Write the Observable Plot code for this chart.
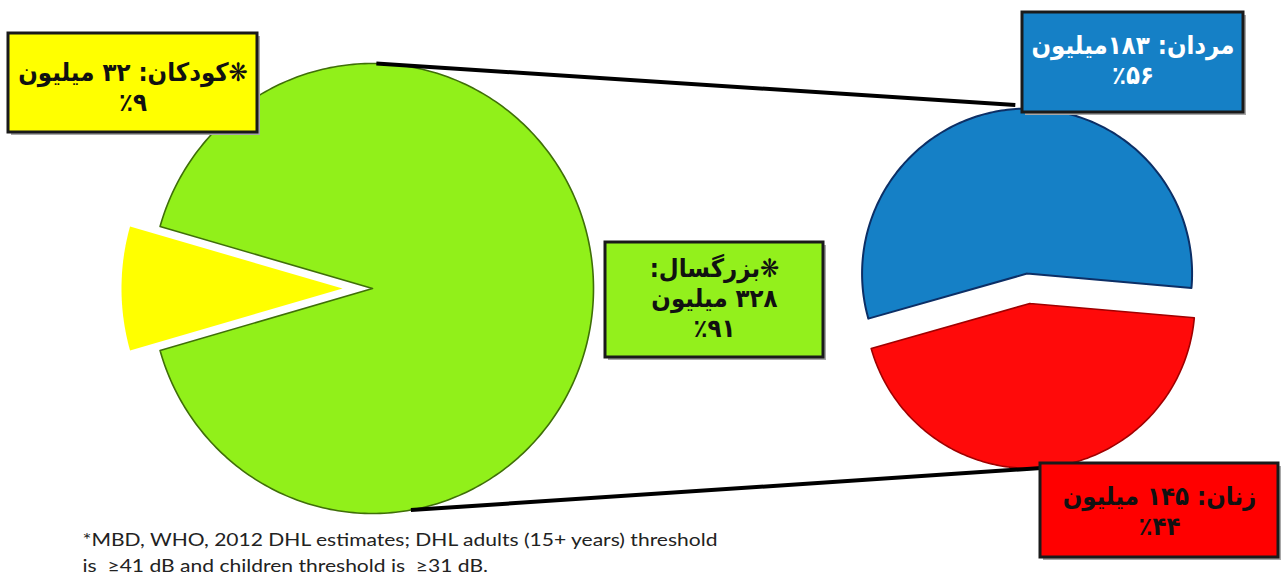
<!DOCTYPE html>
<html>
<head>
<meta charset="utf-8">
<script src="https://cdn.jsdelivr.net/npm/d3@7"></script>
<script src="https://cdn.jsdelivr.net/npm/@observablehq/plot@0.6"></script>
<style>
  html, body { margin: 0; padding: 0; background: #ffffff; }
  #chart svg { display: block; }
</style>
</head>
<body>
<div id="chart"></div>
<script>
// ---------------- DATA ----------------
const groupNames   = ["کودکان", "بزرگسال"];      // children, adults
const groupValues  = [32, 328];                   // million people
const groupPercent = [9, 91];
const sexNames     = ["مردان", "زنان"];           // men, women (breakdown of adults)
const sexValues    = [183, 145];                  // million people
const sexPercent   = [56, 44];
const unitWord     = "میلیون";
const footnoteLines = [
  "*MBD, WHO, 2012 DHL estimates; DHL adults (15+ years) threshold",
  "is  \u226541 dB and children threshold is  \u226531 dB."
];

// ---------------- LAYOUT (page pixels) ----------------
const W = 1288, H = 576;
const leftPie  = {cx: 372, cy: 288, rx: 221, ry: 225, explode: 30, centerAngle: 180};
const rightPie = {cx: 1028, cy: 288, rx: 165, ry: 165, explode: 15, startAngle: -5};
const boxes = {
  children: {x1: 8,    x2: 257,  y1: 33,  y2: 132, cy: 86,  fill: "#ffff00", text: "#111"},
  adults:   {x1: 605,  x2: 823,  y1: 242, y2: 357, cy: 297, fill: "#93f01c", text: "#111"},
  men:      {x1: 1022, x2: 1243, y1: 12,  y2: 112, cy: 59,  fill: "#1580c6", text: "#ffffff"},
  women:    {x1: 1040, x2: 1278, y1: 463, y2: 557, cy: 510, fill: "#ff0000", text: "#111"}
};
const footnoteWidth = 635;

// ---------------- HELPERS ----------------
const faDigits = "۰۱۲۳۴۵۶۷۸۹";
const fa = n => String(n).replace(/\d/g, d => faDigits[+d]);
const pct = n => "\u202A" + "٪" + fa(n) + "\u202C";
const rad = d => d * Math.PI / 180;

function wedge(key, cx, cy, rx, ry, a0, a1, shift, bis) {
  const ox = shift * Math.cos(rad(bis)), oy = -shift * Math.sin(rad(bis));
  const c = [cx + ox, cy + oy];
  const pts = [{key, x: c[0], y: c[1]}];
  const n = Math.ceil(Math.abs(a1 - a0));
  for (let i = 0; i <= n; i++) {
    const a = rad(a0 + (a1 - a0) * i / n);
    pts.push({key, x: c[0] + rx * Math.cos(a), y: c[1] - ry * Math.sin(a)});
  }
  pts.push({key, x: c[0], y: c[1]});
  return pts;
}

// Left pie: children vs adults
const groupTotal = d3.sum(groupValues);
const childSpan = groupValues[0] / groupTotal * 360;
const c0 = leftPie.centerAngle - childSpan / 2, c1 = leftPie.centerAngle + childSpan / 2;
const childWedge = wedge("children", leftPie.cx, leftPie.cy, leftPie.rx, leftPie.ry, c0, c1, leftPie.explode, leftPie.centerAngle);
const adultWedge = wedge("adults", leftPie.cx, leftPie.cy, leftPie.rx, leftPie.ry, c1, c0 + 360, 0, 0);

// Right pie: men vs women
const sexTotal = d3.sum(sexValues);
const menSpan = sexValues[0] / sexTotal * 360;
const m0 = rightPie.startAngle, m1 = m0 + menSpan, w1 = m0 + 360;
const menBis = (m0 + m1) / 2, womenBis = (m1 + w1) / 2;
const menWedge = wedge("men", rightPie.cx, rightPie.cy, rightPie.rx, rightPie.ry, m0, m1, rightPie.explode, menBis);
const womenWedge = wedge("women", rightPie.cx, rightPie.cy, rightPie.rx, rightPie.ry, m1, w1, rightPie.explode, womenBis);

// connector lines (from adult slice edge to exploded sub-pie)
function onPie(p, ang, shift, bis, extra = 0) {
  const cx = p.cx + shift * Math.cos(rad(bis)), cy = p.cy - shift * Math.sin(rad(bis));
  return [cx + (p.rx + extra) * Math.cos(rad(ang)), cy - (p.ry + extra) * Math.sin(rad(ang))];
}
const topA = onPie(leftPie, 89, 0, 0), topB = onPie(rightPie, 94, rightPie.explode, menBis, 4);
const botA = onPie(leftPie, -80, 0, 0), botB = onPie(rightPie, -86, rightPie.explode, womenBis, 0);
const connectors = [
  {x1: topA[0], y1: topA[1], x2: topB[0], y2: topB[1]},
  {x1: botA[0], y1: botA[1], x2: botB[0], y2: botB[1]}
];

// label texts
const labels = [
  {...boxes.children, label: "❋" + groupNames[0] + ": " + fa(groupValues[0]) + " " + unitWord + "\n" + pct(groupPercent[0])},
  {...boxes.adults,   label: "❋" + groupNames[1] + ":\n" + fa(groupValues[1]) + " " + unitWord + "\n" + pct(groupPercent[1])},
  {...boxes.men,      label: sexNames[0] + ": " + fa(sexValues[0]) + unitWord + "\n" + pct(sexPercent[0])},
  {...boxes.women,    label: sexNames[1] + ": " + fa(sexValues[1]) + " " + unitWord + "\n" + pct(sexPercent[1])}
];
labels.forEach(d => { d.cx = (d.x1 + d.x2) / 2; });

const footnote = [{label: footnoteLines.join("\n")}];

const chart = Plot.plot({
  width: W, height: H,
  margin: 0,
  style: {background: "#ffffff", overflow: "visible"},
  x: {domain: [0, W], range: [0, W], axis: null},
  y: {domain: [0, H], range: [0, H], axis: null},
  marks: [
    // left pie
    Plot.line(adultWedge, {x: "x", y: "y", fill: "#91f01a", stroke: "#3f6f08", strokeWidth: 1.6, curve: "linear"}),
    Plot.line(childWedge, {x: "x", y: "y", fill: "#ffff00", stroke: "none", curve: "linear"}),
    // right pie
    Plot.line(menWedge, {x: "x", y: "y", fill: "#1580c6", stroke: "#0c2f66", strokeWidth: 2, curve: "linear"}),
    Plot.line(womenWedge, {x: "x", y: "y", fill: "#ff0a0a", stroke: "#a00000", strokeWidth: 1.6, curve: "linear"}),
    // connectors
    Plot.link(connectors, {x1: "x1", y1: "y1", x2: "x2", y2: "y2", stroke: "#000", strokeWidth: 4}),
    // label boxes (shadow + box)
    Plot.rect(labels, {x1: "x1", x2: "x2", y1: "y1", y2: "y2", fill: "#a8a8a8", dx: 3, dy: 3}),
    Plot.rect(labels, {x1: "x1", x2: "x2", y1: "y1", y2: "y2", fill: d => d.fill, stroke: "#1a1a1a", strokeWidth: 3}),
    Plot.text(labels, {x: "cx", y: "cy", text: "label", fill: d => d.text, fontSize: 25.5, fontWeight: "bold",
      fontFamily: "DejaVu Sans Condensed, DejaVu Sans", lineHeight: 1.18, lineAnchor: "middle", textAnchor: "middle"}),
    // footnote
    Plot.text(footnote, {x: () => 82, y: () => 550, text: "label", textAnchor: "start", lineAnchor: "middle",
      fontSize: 18, lineHeight: 1.44, fontFamily: "Lato", fill: "#222"})
  ]
});

document.getElementById("chart").append(chart);

// Persian labels need right-to-left base direction
const svg = d3.select(chart);
svg.selectAll("text").each(function() {
  if (/[\u0600-\u06FF]/.test(this.textContent)) this.setAttribute("direction", "rtl");
});
// stretch the footnote to the width it has in the source picture
svg.selectAll("text").each(function() {
  if (this.textContent.startsWith("*MBD")) {
    const spans = this.querySelectorAll("tspan");
    const first = spans[0].getComputedTextLength();
    const k = footnoteWidth / first;
    spans.forEach(s => {
      s.setAttribute("textLength", s.getComputedTextLength() * k);
      s.setAttribute("lengthAdjust", "spacingAndGlyphs");
    });
  }
});
</script>
</body>
</html>
